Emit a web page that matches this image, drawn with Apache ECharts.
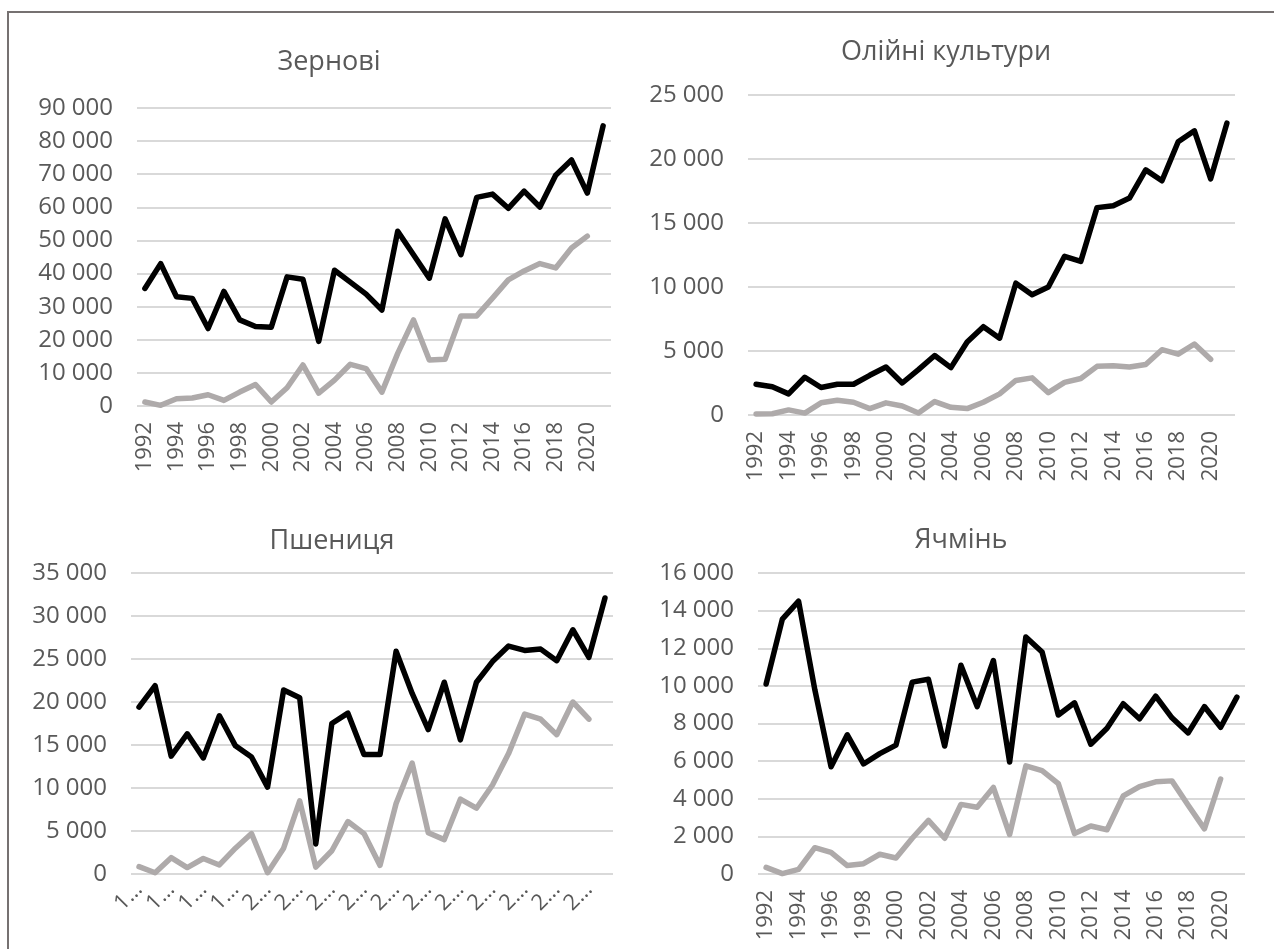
<!DOCTYPE html>
<html>
<head>
<meta charset="utf-8">
<script src="https://cdn.jsdelivr.net/npm/echarts@6/dist/echarts.min.js"></script>
<style>
html, body { margin: 0; padding: 0; background: #ffffff; overflow: hidden; }
#c { width: 1274px; height: 949px; }
</style>
</head>
<body>
<div id="c"></div>
<script>
const years = ['1992','1993','1994','1995','1996','1997','1998','1999','2000','2001','2002','2003','2004','2005','2006','2007','2008','2009','2010','2011','2012','2013','2014','2015','2016','2017','2018','2019','2020','2021'];

const panelTitles = ['Зернові', 'Олійні культури', 'Пшениця', 'Ячмінь'];

const grainProd = [35500,43000,33000,32500,23400,34600,26000,24000,23800,39000,38300,19500,41000,37400,33800,29000,52800,45700,38600,56500,45700,63000,64000,59700,64900,60100,69700,74300,64300,84600];
const grainExp  = [1200,200,2200,2400,3400,1700,4200,6500,1200,5500,12400,3900,7800,12600,11300,4200,15900,26000,13900,14100,27200,27200,32600,38100,40800,43000,41700,47700,51300];

const oilProd = [2400,2200,1650,2950,2150,2400,2400,3100,3750,2500,3550,4650,3700,5700,6900,6000,10300,9400,10000,12400,12000,16200,16350,16950,19150,18300,21350,22200,18450,22800];
const oilExp  = [80,100,400,150,950,1150,1000,500,950,700,150,1050,600,500,1000,1650,2700,2900,1750,2550,2850,3800,3850,3750,3950,5100,4750,5550,4350];

const wheatProd = [19400,21900,13700,16300,13500,18400,14900,13600,10100,21400,20500,3500,17500,18700,13900,13900,25900,21000,16800,22300,15600,22300,24700,26500,26000,26150,24800,28400,25200,32100];
const wheatExp  = [850,150,1900,750,1800,1050,3000,4700,150,3000,8500,800,2700,6100,4700,1000,8200,12900,4800,4000,8700,7650,10350,14000,18600,18000,16200,20000,18000];

const barleyProd = [10100,13550,14500,9800,5700,7400,5850,6400,6850,10200,10350,6800,11100,8900,11350,5950,12600,11800,8450,9100,6900,7750,9050,8250,9450,8300,7500,8900,7800,9400];
const barleyExp  = [350,20,250,1400,1150,450,550,1050,850,1900,2850,1900,3700,3550,4600,2100,5750,5500,4800,2150,2550,2350,4150,4650,4900,4950,3650,2400,5050];

const yMax = [90000, 25000, 35000, 16000];
const yStep = [10000, 5000, 5000, 2000];

const FONT = '"Open Sans", "Noto Sans", sans-serif';
const TXT = '#595959';

// panel plot boxes in page pixels: [left, right, top, bottom]
const boxes = [
  [137, 611, 108, 406],
  [748, 1235, 95, 415],
  [131, 613, 573, 874],
  [758, 1245, 573, 874]
];
const titlePos = [[329, 62], [946, 52], [332, 541], [961, 540]];

const prodSets = [grainProd, oilProd, wheatProd, barleyProd];
const expSets = [grainExp, oilExp, wheatExp, barleyExp];

function fmt(v) { return String(v).replace(/\B(?=(\d{3})+(?!\d))/g, ' '); }
const lastYear = years[years.length - 1];

const grid = [], xAxis = [], yAxis = [], series = [], graphic = [];
boxes.forEach((b, i) => {
  grid.push({ left: b[0], width: b[1] - b[0], top: b[2], height: b[3] - b[2], containLabel: false });
  xAxis.push({
    type: 'category', gridIndex: i, data: years, boundaryGap: true,
    axisLine: { show: false }, axisTick: { show: false },
    axisLabel: i === 2 ? {
      interval: 1, rotate: 45, margin: 12, color: TXT, fontSize: 22, fontFamily: FONT,
      showMinLabel: true, showMaxLabel: true, hideOverlap: false,
      formatter: v => (v === lastYear ? '' : v.charAt(0) + '…')
    } : {
      interval: 1, rotate: 90, margin: 16, color: TXT, fontSize: 22, fontFamily: FONT
    }
  });
  yAxis.push({
    type: 'value', gridIndex: i, min: 0, max: yMax[i], interval: yStep[i],
    axisLine: { show: false }, axisTick: { show: false },
    splitLine: { show: true, lineStyle: { color: '#D9D9D9', width: 2 } },
    axisLabel: { color: TXT, fontSize: 24, fontFamily: FONT, margin: 24, formatter: fmt }
  });
  series.push({
    name: 'Виробництво', type: 'line', xAxisIndex: i, yAxisIndex: i, data: prodSets[i],
    showSymbol: false, symbol: 'none', smooth: false, z: 3,
    lineStyle: { color: '#000000', width: 5.5, cap: 'round', join: 'round' }
  });
  series.push({
    name: 'Експорт', type: 'line', xAxisIndex: i, yAxisIndex: i, data: expSets[i],
    showSymbol: false, symbol: 'none', smooth: false, z: 2,
    lineStyle: { color: '#AEAAAA', width: 5.5, cap: 'round', join: 'round' }
  });
  graphic.push({
    type: 'text', x: titlePos[i][0], y: titlePos[i][1],
    style: { text: panelTitles[i], fill: TXT, font: '27px ' + FONT, align: 'center', verticalAlign: 'middle' }
  });
});

graphic.push({
  type: 'rect', shape: { x: 8, y: 12, width: 4000, height: 4000 },
  style: { fill: 'none', stroke: '#767171', lineWidth: 2 }, silent: true, z: -1
});

const chart = echarts.init(document.getElementById('c'), null, { renderer: 'canvas' });
chart.setOption({
  animation: false,
  backgroundColor: '#ffffff',
  grid, xAxis, yAxis, series, graphic
});
</script>
</body>
</html>
